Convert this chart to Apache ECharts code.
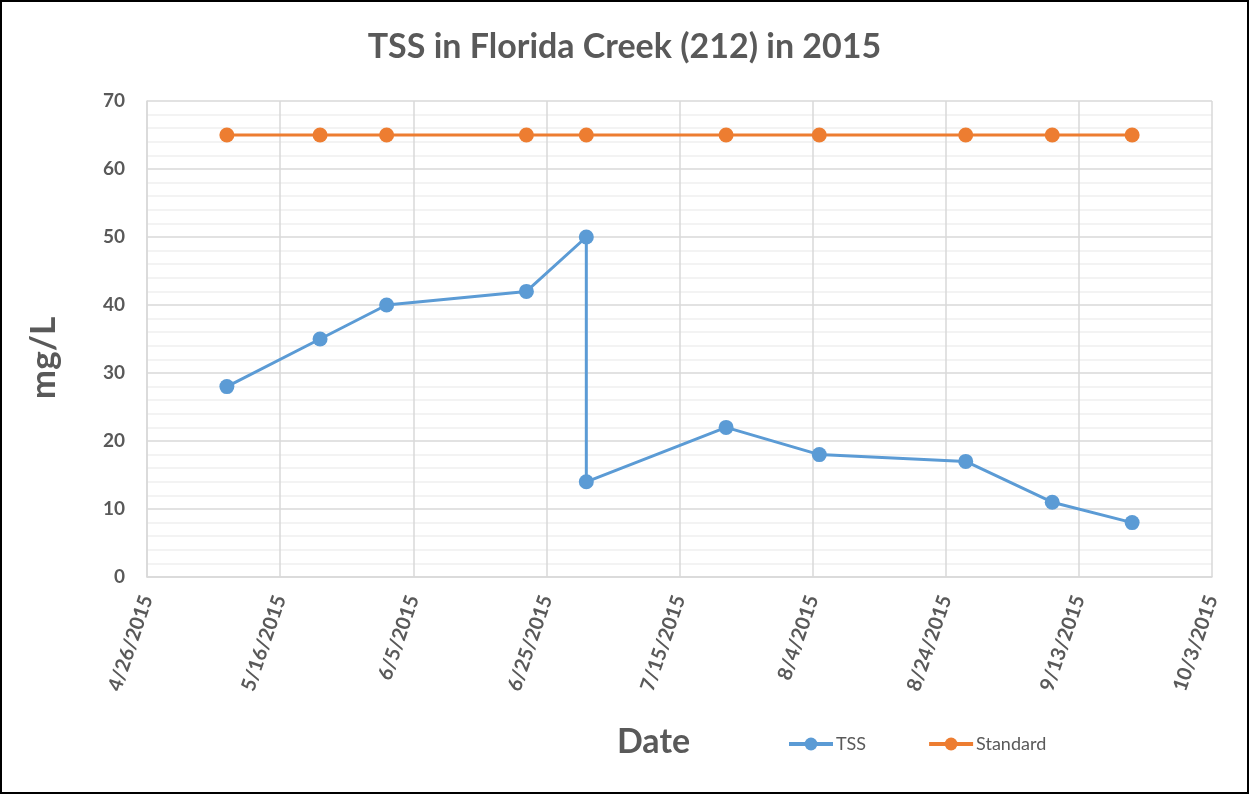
<!DOCTYPE html>
<html>
<head>
<meta charset="utf-8">
<title>TSS in Florida Creek (212) in 2015</title>
<script src="https://cdn.jsdelivr.net/npm/echarts@6/dist/echarts.min.js"></script>
<style>
  html, body { margin: 0; padding: 0; background: #fff; }
  #chart { width: 1249px; height: 794px; }
</style>
</head>
<body>
<div id="chart"></div>
<script>
// sample dates (TSS has two readings on 7/1)
const tssDates = ['2015-05-08', '2015-05-22', '2015-06-01', '2015-06-22', '2015-07-01',
  '2015-07-01', '2015-07-22', '2015-08-05', '2015-08-27', '2015-09-09', '2015-09-21'];
const tssValues = [28, 35, 40, 42, 50, 14, 22, 18, 17, 11, 8];

const standardDates = ['2015-05-08', '2015-05-22', '2015-06-01', '2015-06-22', '2015-07-01',
  '2015-07-22', '2015-08-05', '2015-08-27', '2015-09-09', '2015-09-21'];
const standardValues = [65, 65, 65, 65, 65, 65, 65, 65, 65, 65];

// x axis: days counted from 4/26/2015, tick every 20 days up to 10/3/2015
const axisStart = '2015-04-26';
const axisDays = 160;
const tickDays = 20;

const yMin = 0;
const yMax = 70;
const yStep = 10;

const DAY = 86400000;
const toUTC = s => {
  const [y, m, d] = s.split('-').map(Number);
  return Date.UTC(y, m - 1, d);
};
const base = toUTC(axisStart);
const dayOf = s => Math.round((toUTC(s) - base) / DAY);
const fmtDay = n => {
  const d = new Date(base + n * DAY);
  return (d.getUTCMonth() + 1) + '/' + d.getUTCDate() + '/' + d.getUTCFullYear();
};

const pairs = (dates, vals) => dates.map((d, i) => [dayOf(d), vals[i]]);

const FONT = 'Lato, "Open Sans", sans-serif';
const GREY = '#595959';
const GRID = '#d9d9d9';

const chart = echarts.init(document.getElementById('chart'), null, { renderer: 'canvas' });

chart.setOption({
  animation: false,
  backgroundColor: '#fff',
  textStyle: { fontFamily: FONT },
  title: {
    text: 'TSS in Florida Creek (212) in 2015',
    left: 'center',
    top: 25,
    textStyle: { fontFamily: FONT, fontSize: 34, fontWeight: 'bold', color: GREY }
  },
  graphic: [{
    type: 'rect',
    shape: { x: 1, y: 1, width: 1247, height: 792 },
    style: { fill: 'none', stroke: '#000', lineWidth: 2 },
    silent: true,
    z: 100
  }],
  legend: {
    left: 787,
    top: 735,
    padding: 0,
    itemWidth: 44,
    itemHeight: 16,
    itemGap: 61,
    lineStyle: { width: 4 },
    textStyle: { fontFamily: FONT, fontSize: 18, color: GREY, padding: [0, 0, 0, -2] },
    data: ['TSS', 'Standard']
  },
  grid: { left: 147, right: 37, top: 101, bottom: 217, containLabel: false },
  xAxis: {
    type: 'value',
    min: 0,
    max: axisDays,
    interval: tickDays,
    name: 'Date',
    nameLocation: 'middle',
    nameGap: 148,
    nameTextStyle: { fontFamily: FONT, fontSize: 34, fontWeight: 'bold', color: GREY, padding: [0, 52, 0, 0] },
    axisLine: { show: true, lineStyle: { color: GRID, width: 1.5 } },
    axisTick: { show: false },
    axisLabel: {
      formatter: fmtDay,
      rotate: 71,
      margin: 19,
      fontFamily: FONT,
      fontSize: 20,
      fontWeight: 'bold',
      color: GREY
    },
    splitLine: { show: true, lineStyle: { color: GRID, width: 1.5 } }
  },
  yAxis: {
    type: 'value',
    min: yMin,
    max: yMax,
    interval: yStep,
    name: 'mg/L',
    nameLocation: 'middle',
    nameGap: 86,
    nameTextStyle: { fontFamily: FONT, fontSize: 35, fontWeight: 'bold', color: GREY, padding: [0, 38, 0, 0] },
    axisLine: { show: true, lineStyle: { color: GRID, width: 1.5 } },
    axisTick: { show: false },
    axisLabel: { margin: 22, fontFamily: FONT, fontSize: 19, fontWeight: 'bold', color: GREY },
    splitLine: { show: true, lineStyle: { color: GRID, width: 1.5 } },
    minorTick: { show: false, splitNumber: 5 },
    minorSplitLine: { show: true, lineStyle: { color: '#f0f0f0', width: 1.5 } }
  },
  series: [
    {
      name: 'TSS',
      type: 'line',
      data: pairs(tssDates, tssValues),
      color: '#5B9BD5',
      lineStyle: { width: 3 },
      symbol: 'circle',
      symbolSize: 15,
      z: 3
    },
    {
      name: 'Standard',
      type: 'line',
      data: pairs(standardDates, standardValues),
      color: '#ED7D31',
      lineStyle: { width: 3 },
      symbol: 'circle',
      symbolSize: 15,
      z: 3
    }
  ]
});
</script>
</body>
</html>
